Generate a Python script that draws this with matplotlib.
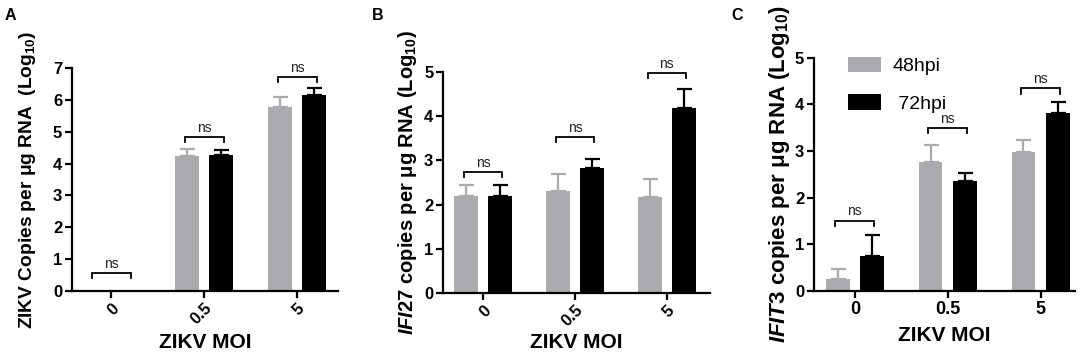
import numpy as np
import matplotlib
matplotlib.use("Agg")
import matplotlib.pyplot as plt

plt.rcParams['font.family'] = ['Liberation Sans', 'DejaVu Sans']
plt.rcParams['mathtext.fontset'] = 'custom'
plt.rcParams['mathtext.rm'] = 'Liberation Sans:bold'
plt.rcParams['mathtext.it'] = 'Liberation Sans:italic:bold'
plt.rcParams['mathtext.bf'] = 'Liberation Sans:bold'

categories = ["0", "0.5", "5"]
series = ["48hpi", " 72hpi"]

# Panel A: ZIKV copies
a_48 = [0.0, 4.25, 5.78]
a_48_err = [0.0, 0.2, 0.31]
a_72 = [0.0, 4.28, 6.14]
a_72_err = [0.0, 0.14, 0.24]
a_ns = [0.55, 4.84, 6.72]

# Panel B: IFI27
b_48 = [2.2, 2.31, 2.18]
b_48_err = [0.24, 0.38, 0.39]
b_72 = [2.2, 2.82, 4.19]
b_72_err = [0.24, 0.21, 0.42]
b_ns = [2.74, 3.52, 4.98]

# Panel C: IFIT3
c_48 = [0.25, 2.76, 2.97]
c_48_err = [0.23, 0.37, 0.27]
c_72 = [0.75, 2.35, 3.82]
c_72_err = [0.44, 0.17, 0.24]
c_ns = [1.51, 3.5, 4.34]

GRAY = '#ababaf'
BLACK = '#000000'

fig = plt.figure(figsize=(10.84, 3.52), dpi=100)

panels = [
    dict(rect=[0.0664, 0.1733, 0.2454, 0.6335], ylim=7, xlim=(-0.42, 2.44),
         d48=a_48, e48=a_48_err, d72=a_72, e72=a_72_err, ns=a_ns,
         ylabel=r"ZIKV Copies per μg RNA  (Log$_{10}$)", rot=True, letter="A",
         lx=0.004, ylfs=13.8, ylx=-0.128, xly=-0.19),
    dict(rect=[0.4087, 0.1676, 0.2463, 0.6278], ylim=5, xlim=(-0.435, 2.47),
         d48=b_48, e48=b_48_err, d72=b_72, e72=b_72_err, ns=b_ns,
         ylabel=r"$\mathit{IFI27}$ copies per μg RNA (Log$_{10}$)", rot=True, letter="B",
         lx=0.343, ylfs=14.5, ylx=-0.09, xly=-0.183),
    dict(rect=[0.7509, 0.1733, 0.2408, 0.6628], ylim=5, xlim=(-0.44, 2.37),
         d48=c_48, e48=c_48_err, d72=c_72, e72=c_72_err, ns=c_ns,
         ylabel=r"$\mathit{IFIT3}$ copies per μg RNA (Log$_{10}$)", rot=False, letter="C",
         lx=0.675, ylfs=16, ylx=-0.085, xly=-0.152),
]

x = np.arange(len(categories))
w = 0.255
off = 0.185

for i, p in enumerate(panels):
    ax = fig.add_axes(p['rect'])
    b1 = ax.bar(x - off, p['d48'], w, color=GRAY, label=series[0])
    b2 = ax.bar(x + off, p['d72'], w, color=BLACK, label=series[1])
    for xs, vals, errs, col in [(x - off, p['d48'], p['e48'], GRAY),
                                (x + off, p['d72'], p['e72'], BLACK)]:
        for xx, v, e in zip(xs, vals, errs):
            if e > 0:
                ax.errorbar([xx], [v], yerr=[[0], [e]], fmt='none', ecolor=col,
                            elinewidth=1.6, capsize=5.4, capthick=1.6)
    for xx, h in zip(x, p['ns']):
        tick = p['ylim'] * 0.022
        ax.plot([xx - 0.21, xx - 0.21, xx + 0.21, xx + 0.21],
                [h - tick, h, h, h - tick], color='black', lw=1.3,
                solid_joinstyle='miter', clip_on=False)
        ax.annotate("ns", (xx, h), xytext=(0, 1.5), textcoords='offset points',
                    ha='center', va='bottom', fontsize=10, color='#222222')
    ax.set_xlim(*p['xlim'])
    ax.set_ylim(0, p['ylim'])
    ax.set_yticks(range(0, p['ylim'] + 1))
    ax.set_xticks(x)
    ax.spines['top'].set_visible(False)
    ax.spines['right'].set_visible(False)
    for s in ['left', 'bottom']:
        ax.spines[s].set_linewidth(1.6)
    ax.tick_params(axis='both', width=1.6, length=5, labelsize=12, pad=2)
    for lab in ax.get_yticklabels():
        lab.set_fontweight('bold')
    if p['rot']:
        ax.set_xticklabels(categories, rotation=45, ha='right', va='top',
                           rotation_mode='anchor', fontweight='bold', fontsize=12)
    else:
        ax.set_xticklabels(categories, fontweight='bold', fontsize=13)
    ax.set_xlabel("ZIKV MOI", fontsize=15, fontweight='bold')
    ax.xaxis.set_label_coords(0.5, p['xly'])
    ax.set_ylabel(p['ylabel'], fontsize=p['ylfs'], fontweight='bold')
    ax.yaxis.set_label_coords(p['ylx'], 0.5)
    fig.text(p['lx'], 0.955, p['letter'], fontsize=11.5, fontweight='bold', va='center')
    if i == 2:
        ax.legend(handles=[b1, b2], loc='upper left', bbox_to_anchor=(0.13, 1.005),
                  frameon=False, fontsize=14, handlelength=1.7, handleheight=0.85,
                  handletextpad=0.6, labelspacing=1.0, borderpad=0, borderaxespad=0)

fig.savefig("out.png", dpi=100)
